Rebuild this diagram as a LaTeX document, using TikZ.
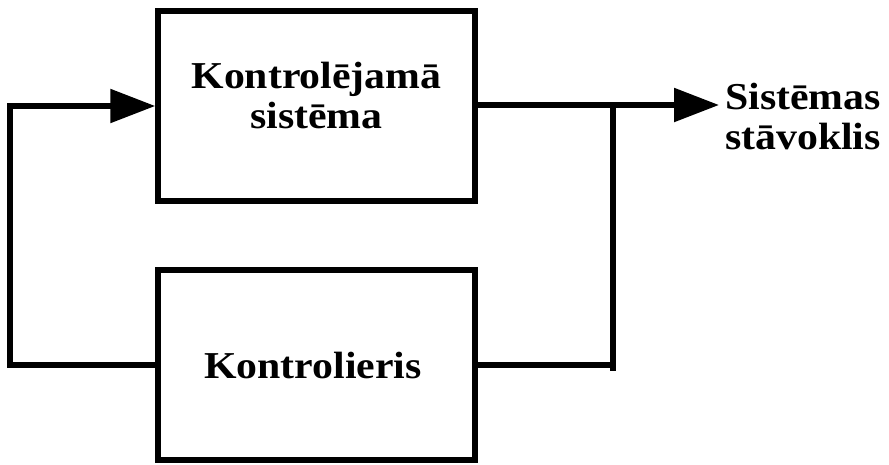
\documentclass[tikz,border=0pt]{standalone}
\usepackage{fontspec}
\setmainfont{Liberation Serif}[FakeStretch=1.1]
\usetikzlibrary{arrows.meta}
\begin{document}
\begin{tikzpicture}[x=1pt,y=-1pt,
  block/.style={draw, line width=5.5pt, minimum width=317pt, minimum height=190pt, inner sep=0pt},
  wire/.style={line width=5.5pt},
  flow/.style={wire, -{Triangle[length=45pt,width=33pt]}},
  lbl/.style={font=\fontsize{38}{40}\selectfont\bfseries, inner sep=0pt}]
\useasboundingbox (0,0) rectangle (889,464);
% the two blocks
\node[block] (plant) at (316.5,106) {};
\node[block] (ctrl) at (316.5,365) {};
\node[lbl, align=center] (plantlbl) at (316.5,95) {Kontrolējamā\\sistēma};
\node[lbl] (ctrllbl) at (313,365) {Kontrolieris};
% output of the plant
\coordinate (out) at (719,105);
\coordinate (tap) at (613,105);
\coordinate (tapend) at (613,371);
\coordinate (tapfb) at (613,365);
\coordinate (back) at (10,365);
\draw[flow] (plant.east |- out) -- (out);
\node[lbl, align=left, anchor=west] (state) at (725,116) {Sistēmas\\stāvoklis};
% feedback loop through the controller
\draw[wire] (tap) -- (tapend);
\draw[wire] (tapfb) -- (ctrl.east);
\draw[flow] (ctrl.west) -- (back) |- (plant.west);
\end{tikzpicture}
\end{document}
